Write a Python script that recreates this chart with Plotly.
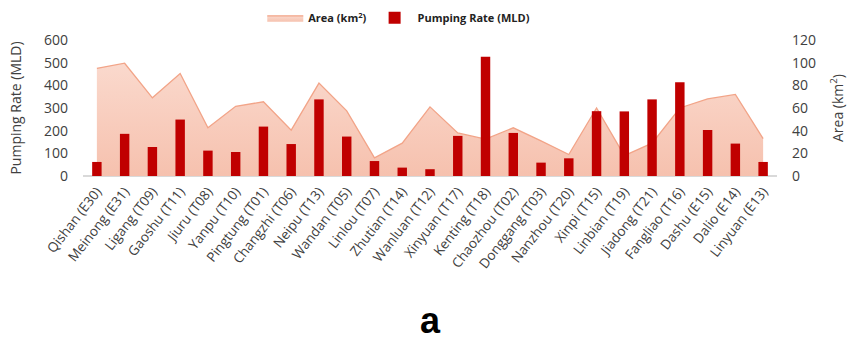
import plotly.graph_objects as go

stations = ["Qishan (E30)", "Meinong (E31)", "Ligang (T09)", "Gaoshu (T11)", "Jiuru (T08)",
            "Yanpu (T10)", "Pingtung (T01)", "Changzhi (T06)", "Neipu (T13)", "Wandan (T05)",
            "Linlou (T07)", "Zhutian (T14)", "Wanluan (T12)", "Xinyuan (T17)", "Kenting (T18)",
            "Chaozhou (T02)", "Donggang (T03)", "Nanzhou (T20)", "Xinpi (T15)", "Linbian (T19)",
            "Jiadong (T21)", "Fangliao (T16)", "Dashu (E15)", "Dalio (E14)", "Linyuan (E13)"]

pumping_rate = [62, 186, 128, 249, 112, 106, 218, 141, 338, 174,
                66, 37, 30, 177, 526, 190, 59, 78, 286, 285,
                338, 414, 203, 143, 62]

area_km2 = [95, 99.5, 69, 90.5, 42.5, 61.5, 65.5, 40.5, 82, 57.5,
            16, 29, 61, 38, 32.5, 42.5, 31, 19, 60, 18,
            29, 60, 68, 72, 33]

FONT = "Open Sans"

fig = go.Figure()
# area on the base axis (drawn underneath), shown on the right
fig.add_trace(go.Scatter(
    x=stations, y=area_km2, name="Area (km<sup>2</sup>)", yaxis="y",
    mode="lines", line=dict(color="#f2a488", width=1.3),
    fill="tozeroy",
    fillgradient=dict(type="vertical",
                      colorscale=[[0, "#f6c1ae"], [1, "#fad9cd"]]),
))
# bars on the overlaying axis (drawn on top), shown on the left
fig.add_trace(go.Bar(
    x=stations, y=pumping_rate, name="Pumping Rate (MLD)", yaxis="y2",
    marker=dict(color="#c00000", line=dict(width=0)), width=0.34,
))

fig.update_layout(
    width=856, height=337,
    margin=dict(l=83, r=79, t=40, b=161, autoexpand=False),
    paper_bgcolor="white", plot_bgcolor="rgba(0,0,0,0)",
    font=dict(family=FONT, color="#404040", size=13),
    showlegend=True,
    legend=dict(orientation="h", x=0.455, xanchor="center", y=0.99, yanchor="top",
                yref="container", font=dict(size=11, color="#222", weight="bold"),
                traceorder="normal", itemwidth=36, bgcolor="rgba(0,0,0,0)"),
    xaxis=dict(type="category", range=[-0.5, 24.5], tickangle=-52,
               showgrid=False, showline=False, zeroline=False,
               tickfont=dict(size=13.5, color="#404040"), ticks="",
               ticklabelstandoff=4),
    yaxis=dict(range=[0, 120], dtick=20, side="right",
               showgrid=False, zeroline=False, showline=False,
               tickfont=dict(size=14, color="#404040"), ticklabelstandoff=14,
               title=dict(text="Area (km<sup>2</sup>)", font=dict(size=14, color="#404040"),
                          standoff=18)),
    yaxis2=dict(range=[0, 600], dtick=100, overlaying="y", side="left",
                showgrid=False, zeroline=True,
                zerolinecolor="#d9d9d9", zerolinewidth=2, showline=False,
                tickfont=dict(size=14, color="#404040"), ticklabelstandoff=14,
                title=dict(text="Pumping Rate (MLD)", font=dict(size=14, color="#404040"),
                           standoff=19)),
    annotations=[dict(text="<b>a</b>", x=0.5, xref="paper", y=-1.06, yref="paper",
                      yanchor="middle", showarrow=False,
                      font=dict(family="Liberation Sans", size=36, color="black"))],
)
fig.write_html("out.html", config={"displayModeBar": False},
               post_script="document.body.style.margin='0';document.body.style.overflow='hidden';")
